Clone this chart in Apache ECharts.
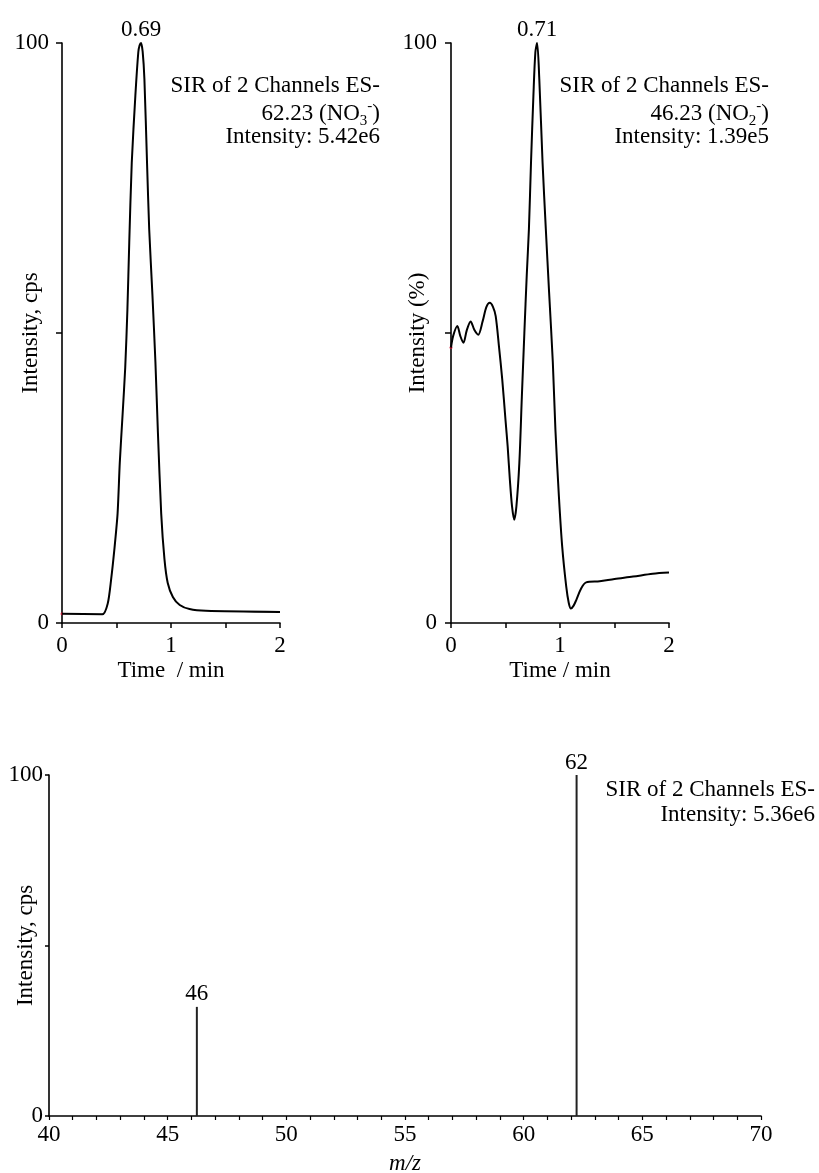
<!DOCTYPE html>
<html>
<head>
<meta charset="utf-8">
<script src="https://cdn.jsdelivr.net/npm/echarts@6/dist/echarts.min.js"></script>
<style>
  html, body { margin: 0; padding: 0; background: #fff; }
  #main { width: 819px; height: 1173px; }
</style>
</head>
<body>
<div id="main"></div>
<script>
// NO3- chromatogram (m/z 62.23)
var nitrateTime = [0, 0.37, 0.42, 0.45, 0.48, 0.51, 0.53, 0.556, 0.58, 0.6, 0.617, 0.64, 0.673, 0.70, 0.712, 0.725, 0.74, 0.756, 0.78, 0.80, 0.83, 0.857, 0.88, 0.91, 0.94, 0.97, 1.017, 1.08, 1.17, 1.32, 2.0];
var nitrateInt  = [1.6, 1.5, 3.4, 7.4, 12.6, 18.9, 27.6, 36, 44, 54, 65.6, 79.4, 90.9, 98.4, 99.6, 100, 98.5, 93.8, 79.4, 67.9, 56.4, 45, 32.8, 18.9, 11, 6.9, 4.5, 3.1, 2.4, 2.1, 1.9];

// NO2- chromatogram (m/z 46.23)
var nitriteTime = [0, 0.02, 0.058, 0.085, 0.114, 0.145, 0.18, 0.215, 0.25, 0.29, 0.325, 0.356, 0.385, 0.41, 0.44, 0.47, 0.50, 0.52, 0.54, 0.56, 0.58, 0.60, 0.627, 0.65, 0.673, 0.695, 0.715, 0.734, 0.756, 0.774, 0.79, 0.81, 0.84, 0.87, 0.90, 0.934, 0.958, 0.99, 1.02, 1.057, 1.08, 1.10, 1.125, 1.15, 1.195, 1.24, 1.364, 1.5, 1.67, 1.85, 2.0];
var nitriteInt  = [47.5, 49.5, 51.2, 49.5, 48.3, 50.5, 52, 50.5, 49.7, 52, 54.5, 55.2, 54.5, 52.9, 47.7, 42, 35, 30.4, 24.7, 20.1, 17.8, 20.1, 27.6, 39, 50, 60, 68, 79.4, 90.9, 98.4, 100, 93.8, 79.4, 67.9, 57, 45, 33.3, 21.8, 13.2, 6.3, 3.5, 2.5, 3, 4.0, 6.0, 7.0, 7.2, 7.6, 8.0, 8.5, 8.7];

// mass spectrum
var massCharge = [46.23, 62.23];
var massInt = [32, 100];

var timeLabels = [0, 1, 2];
var pctLabels = [0, 100];
var mzLabels = [40, 45, 50, 55, 60, 65, 70];

var FONT = 'Liberation Serif';
var chart = echarts.init(document.getElementById('main'));

function pairs(xs, ys) {
  return xs.map(function (x, i) { return [x, ys[i]]; });
}

function xAxisTime(grid, name) {
  return {
    type: 'value', gridIndex: grid, min: 0, max: 2, interval: 0.5,
    name: name, nameLocation: 'middle', nameGap: 36, nameMoveOverlap: false,
    nameTextStyle: { fontFamily: FONT, fontSize: 23, color: '#000' },
    axisLine: { lineStyle: { color: '#000', width: 1.6 } },
    axisTick: { length: 5, lineStyle: { color: '#000', width: 1.5 } },
    axisLabel: {
      margin: 11, fontFamily: FONT, fontSize: 23, color: '#000',
      formatter: function (v) { return timeLabels.indexOf(v) >= 0 ? String(v) : ''; }
    },
    splitLine: { show: false }
  };
}

function yAxisPct(grid, name, gap, tickLen, margin) {
  return {
    type: 'value', gridIndex: grid, min: 0, max: 100, interval: 50,
    name: name, nameLocation: 'middle', nameGap: gap, nameMoveOverlap: false,
    nameTextStyle: { fontFamily: FONT, fontSize: 23, color: '#000' },
    axisLine: { show: true, lineStyle: { color: '#000', width: 1.6 } },
    axisTick: { show: true, length: tickLen, lineStyle: { color: '#000', width: 1.5 } },
    axisLabel: {
      margin: margin, fontFamily: FONT, fontSize: 23, color: '#000',
      formatter: function (v) { return pctLabels.indexOf(v) >= 0 ? String(v) : ''; }
    },
    splitLine: { show: false }
  };
}

function peakLabel(text) {
  return {
    symbol: 'circle', symbolSize: 0,
    data: [{ type: 'max' }],
    label: {
      show: true, position: 'top', distance: 2,
      fontFamily: FONT, fontSize: 23, color: '#000',
      formatter: function () { return text; }
    }
  };
}

function note(x, y, text, rich) {
  return {
    type: 'text', x: x, y: y,
    style: {
      text: text, textAlign: 'right', textVerticalAlign: 'middle',
      fontFamily: FONT, fontSize: 23, fill: '#000', lineHeight: 30,
      rich: rich || {}
    }
  };
}

var subSup = {
  sub: { fontFamily: FONT, fontSize: 15, lineHeight: 16, verticalAlign: 'bottom', fill: '#000' },
  sup: { fontFamily: FONT, fontSize: 15, lineHeight: 16, verticalAlign: 'top', fill: '#000' }
};

var option = {
  backgroundColor: '#fff',
  animation: false,
  grid: [
    { left: 62, top: 43, width: 218, height: 580, outerBoundsMode: 'none' },
    { left: 451, top: 43, width: 218, height: 580, outerBoundsMode: 'none' },
    { left: 49, top: 775, width: 712, height: 341, outerBoundsMode: 'none' }
  ],
  xAxis: [
    xAxisTime(0, 'Time  / min'),
    xAxisTime(1, 'Time / min'),
    {
      type: 'value', gridIndex: 2, min: 40, max: 70, interval: 1,
      name: 'm/z', nameLocation: 'middle', nameGap: 36, nameMoveOverlap: false,
      nameTextStyle: { fontFamily: FONT, fontSize: 23, fontStyle: 'italic', color: '#000' },
      axisLine: { lineStyle: { color: '#000', width: 1.6 } },
      axisTick: { length: 4, lineStyle: { color: '#000', width: 1.2 } },
      axisLabel: {
        margin: 7, fontFamily: FONT, fontSize: 23, color: '#000',
        formatter: function (v) { return mzLabels.indexOf(v) >= 0 ? String(v) : ''; }
      },
      splitLine: { show: false }
    }
  ],
  yAxis: [
    yAxisPct(0, 'Intensity, cps', 20, 6, 13),
    yAxisPct(1, 'Intensity (%)', 22, 6, 14),
    yAxisPct(2, 'Intensity, cps', 12, 4, 6)
  ],
  series: [
    {
      type: 'line', xAxisIndex: 0, yAxisIndex: 0, showSymbol: false, smooth: 0.25,
      lineStyle: { color: '#000', width: 2 },
      data: pairs(nitrateTime, nitrateInt),
      markPoint: peakLabel('0.69')
    },
    {
      type: 'scatter', xAxisIndex: 0, yAxisIndex: 0, symbolSize: 3,
      itemStyle: { color: '#d01030' },
      data: [[nitrateTime[0], nitrateInt[0]]]
    },
    {
      type: 'line', xAxisIndex: 1, yAxisIndex: 1, showSymbol: false, smooth: 0.3,
      lineStyle: { color: '#000', width: 2 },
      data: pairs(nitriteTime, nitriteInt),
      markPoint: peakLabel('0.71')
    },
    {
      type: 'scatter', xAxisIndex: 1, yAxisIndex: 1, symbolSize: 3,
      itemStyle: { color: '#d01030' },
      data: [[nitriteTime[0], nitriteInt[0]]]
    },
    {
      type: 'bar', xAxisIndex: 2, yAxisIndex: 2, barWidth: 2,
      itemStyle: { color: '#222' },
      label: {
        show: true, position: 'top', distance: 1,
        fontFamily: FONT, fontSize: 23, color: '#000',
        formatter: function (p) { return String(Math.round(p.value[0])); }
      },
      data: pairs(massCharge, massInt)
    }
  ],
  graphic: [
    note(380, 86, 'SIR of 2 Channels ES-'),
    note(380, 114, '62.23 (NO{sub|3}{sup|-})', subSup),
    note(380, 137, 'Intensity: 5.42e6'),
    note(769, 86, 'SIR of 2 Channels ES-'),
    note(769, 114, '46.23 (NO{sub|2}{sup|-})', subSup),
    note(769, 137, 'Intensity: 1.39e5'),
    note(815, 790, 'SIR of 2 Channels ES-'),
    note(815, 815, 'Intensity: 5.36e6')
  ]
};

chart.setOption(option);
</script>
</body>
</html>
